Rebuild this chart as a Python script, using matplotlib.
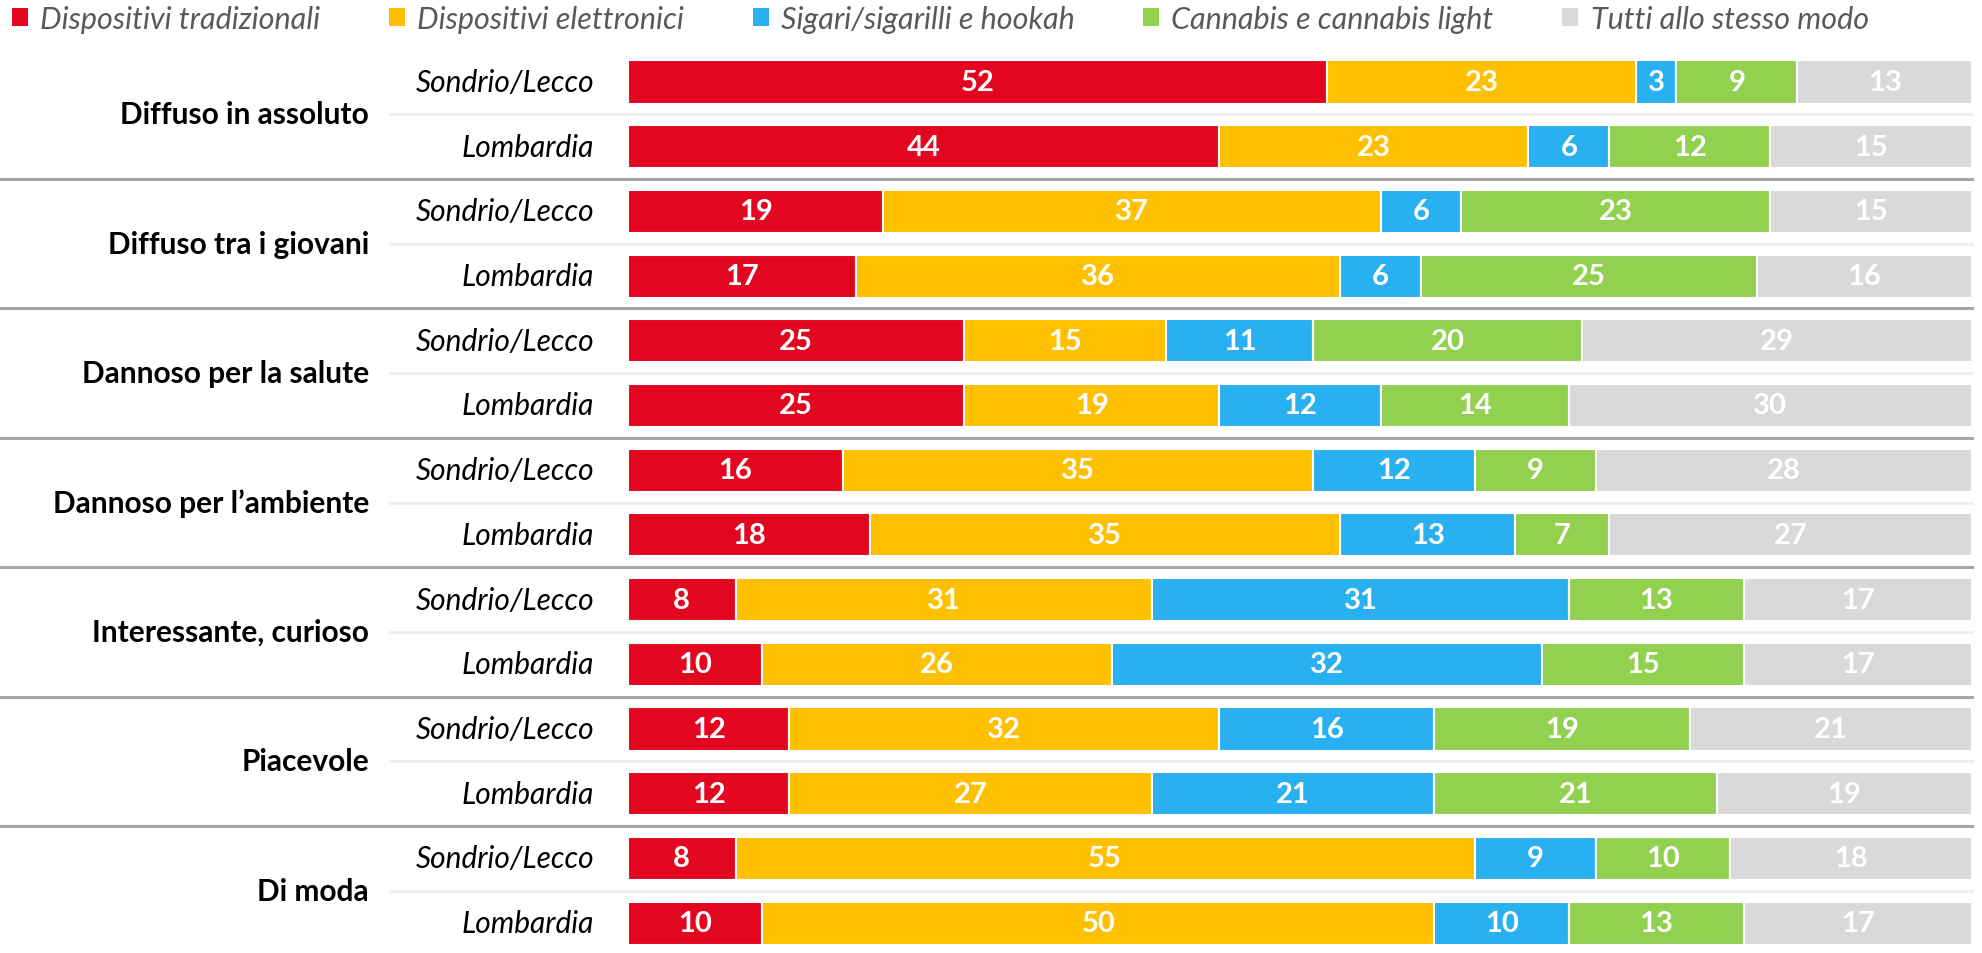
import matplotlib
matplotlib.use("Agg")
import matplotlib.pyplot as plt
from matplotlib.patches import Patch
import matplotlib.transforms as mtransforms

# ---- data ----
groups = ["Diffuso in assoluto", "Diffuso tra i giovani", "Dannoso per la salute",
          "Dannoso per l\u2019ambiente", "Interessante, curioso", "Piacevole", "Di moda"]
areas = ["Sondrio/Lecco", "Lombardia"]
series = ["Dispositivi tradizionali", "Dispositivi elettronici", "Sigari/sigarilli e hookah",
          "Cannabis e cannabis light", "Tutti allo stesso modo"]
tradizionali = [52, 44, 19, 17, 25, 25, 16, 18, 8, 10, 12, 12, 8, 10]
elettronici  = [23, 23, 37, 36, 15, 19, 35, 35, 31, 26, 32, 27, 55, 50]
sigari       = [3, 6, 6, 6, 11, 12, 12, 13, 31, 32, 16, 21, 9, 10]
cannabis     = [9, 12, 23, 25, 20, 14, 9, 7, 13, 15, 19, 21, 10, 13]
tutti        = [13, 15, 15, 16, 29, 30, 28, 27, 17, 17, 21, 19, 18, 17]
values = [tradizionali, elettronici, sigari, cannabis, tutti]
colors = ["#E30620", "#FFC000", "#29B0F0", "#92D050", "#D9D9D9"]

FONT = "Lato"
W, H = 1982, 954
fig = plt.figure(figsize=(W / 100, H / 100), dpi=100)
ax = fig.add_axes([628 / W, 0, (1972 - 628) / W, 1])

n = len(tradizionali)
rows = list(range(n))
pitch = 64.7
top_unit = -83 / pitch
ax.set_ylim(top_unit + H / pitch, top_unit)
ax.set_xlim(0, 100)
ax.axis("off")

left = [0] * n
for vals, col in zip(values, colors):
    ax.barh(rows, vals, left=left, height=0.665, color=col, edgecolor="white", linewidth=1.5)
    for r, v, l in zip(rows, vals, left):
        ax.text(l + v / 2, r, str(v), ha="center", va="center", color="white",
                fontsize=21, fontweight="bold", family=FONT)
    left = [a + b for a, b in zip(left, vals)]

trans = mtransforms.blended_transform_factory(fig.transFigure, ax.transData)

# labels
for i, g in enumerate(groups):
    ax.text(369 / W, 2 * i + 0.5, g, transform=trans, ha="right", va="center",
            fontsize=21.5, fontweight="bold", family=FONT, color="black")
for r in rows:
    ax.text(594 / W, r, areas[r % 2], transform=trans, ha="right", va="center",
            fontsize=21.5, style="italic", family=FONT, color="black")

# separators
for i in range(len(groups)):
    ax.plot([390 / W, 1972 / W], [2 * i + 0.5] * 2, transform=trans, color="#EFEFEF",
            lw=2.2, clip_on=False, zorder=0)
for i in range(1, len(groups)):
    ax.plot([0, 1972 / W], [2 * i - 0.5] * 2, transform=trans, color="#A6A6A6",
            lw=2.2, clip_on=False, zorder=0)

handles = [Patch(facecolor=c, edgecolor="none") for c in colors]
leg = fig.legend(handles, series, loc="center left", bbox_to_anchor=(12 / W, 1 - 20 / H),
                 ncol=5, frameon=False, handlelength=0.52, handleheight=0.52,
                 handletextpad=0.4, columnspacing=2.25, borderaxespad=0, borderpad=0,
                 prop={"family": FONT, "style": "italic", "size": 22})
for t in leg.get_texts():
    t.set_color("#595959")

fig.savefig("out.png", dpi=100)
